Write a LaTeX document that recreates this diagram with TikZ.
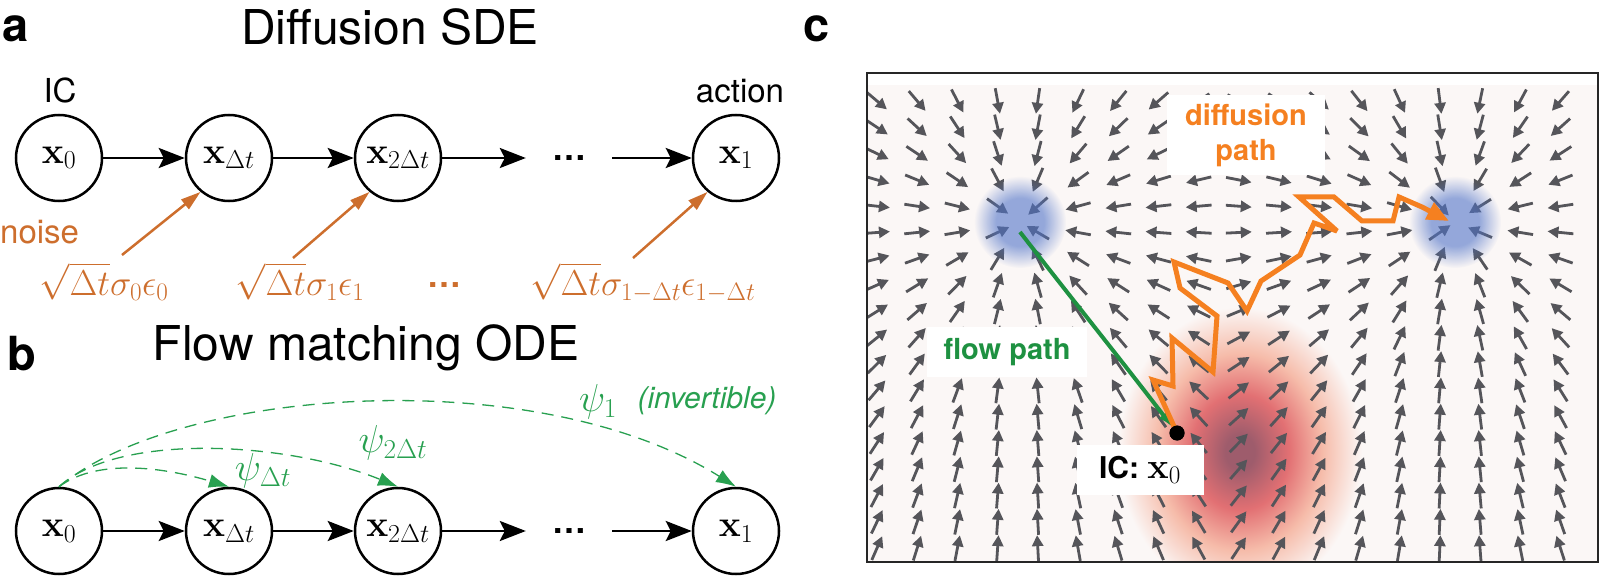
\RequirePackage{fix-cm}
\documentclass[tikz,border=0pt]{standalone}
\usepackage[no-math]{fontspec}
\newfontfamily\hv{TeX Gyre Heros}
\usetikzlibrary{arrows.meta,fadings}

\definecolor{orA}{RGB}{205,110,45}
\definecolor{grB}{RGB}{40,160,80}
\definecolor{orC}{RGB}{245,128,32}
\definecolor{grC}{RGB}{30,145,65}
\definecolor{bgC}{RGB}{251,247,246}
\definecolor{qvC}{RGB}{85,85,90}
\definecolor{blueC}{RGB}{80,115,200}
\definecolor{rCore}{RGB}{158,92,108}
\definecolor{rMid}{RGB}{226,112,115}
\definecolor{rOut}{RGB}{246,188,170}

\pgfdeclareradialshading{redblobsh}{\pgfpointorigin}{color(0bp)=(rCore); color(3bp)=(rCore); color(10bp)=(rMid); color(17bp)=(rOut); color(25bp)=(bgC); color(50bp)=(bgC)}
\pgfdeclareradialshading{softblobsh}{\pgfpointorigin}{color(0bp)=(pgftransparent!0); color(13bp)=(pgftransparent!0); color(25bp)=(pgftransparent!100); color(50bp)=(pgftransparent!100)}
\pgfdeclarefading{softblob}{\pgfuseshading{softblobsh}}

\tikzset{
  st/.style={circle, draw, line width=2.5pt, minimum size=86pt, inner sep=0pt, font=\fontsize{37}{37}\selectfont},
  dotsnode/.style={inner xsep=26pt, inner ysep=2pt, font=\hv\bfseries\fontsize{34}{34}\selectfont},
  arr/.style={line width=2.8pt, -{Stealth[length=26pt,width=20pt,inset=5pt]}},
  oarr/.style={draw=orA, line width=2.5pt, -{Triangle[length=20pt,width=12pt]}},
  garc/.style={draw=grB, line width=1.3pt, dash pattern=on 12pt off 8pt, -{Latex[length=20pt,width=14pt]}},
  ttl/.style={font=\hv\fontsize{48}{48}\selectfont, anchor=base, inner sep=0pt},
  plab/.style={font=\hv\bfseries\fontsize{47}{47}\selectfont, anchor=base west, inner sep=0pt},
  lab/.style={font=\hv\fontsize{33}{33}\selectfont, anchor=base, inner sep=0pt},
  omath/.style={text=orA, font=\fontsize{36}{36}\selectfont, anchor=base, inner sep=0pt},
  gmath/.style={text=grB, font=\fontsize{39}{39}\selectfont, inner sep=0pt},
  qv/.style={draw=qvC, line width=2.8pt, -{Triangle[length=11pt,width=11pt]}},
  box/.style={fill=white, inner sep=0pt},
  gpath/.style={draw=grC, line width=4pt, -{Latex[length=15pt,width=11pt]}},
  opath/.style={draw=orC, line width=5pt, miter limit=4, -{Triangle[length=22pt,width=18pt]}},
}

\begin{document}
\begin{tikzpicture}[x=1pt,y=-1pt]
\useasboundingbox (0,0) rectangle (1600,577);

% ---------------- panel a ----------------
\node[plab] (la) at (2,42) {a};
\node[ttl] (ta) at (390,45) {Diffusion SDE};
\node[lab] (ic) at (60,103) {IC};
\node[lab] (act) at (740,103) {action};

\node[st] (a0) at (59,158) {$\mathbf{x}_0$};
\node[st] (a1) at (229,158) {$\mathbf{x}_{\Delta t}$};
\node[st] (a2) at (398,158) {$\mathbf{x}_{2\Delta t}$};
\node[dotsnode] (ad) at (569,158) {…};
\node[st] (a3) at (736,158) {$\mathbf{x}_1$};

\draw[arr] (a0) -- (a1);
\draw[arr] (a1) -- (a2);
\draw[arr] (a2) -- (ad);
\draw[arr] (ad) -- (a3);

\node[font=\hv\fontsize{33}{33}\selectfont, text=orA, anchor=base west, inner sep=0pt] (noise) at (0,244) {noise};
\node[omath] (s0) at (104,295) {$\sqrt{\Delta t}\sigma_0\epsilon_0$};
\node[omath] (s1) at (300,295) {$\sqrt{\Delta t}\sigma_1\epsilon_1$};
\node[dotsnode, text=orA, inner xsep=0pt] (sd) at (444,285) {…};
\node[omath] (s2) at (643,295) {$\sqrt{\Delta t}\sigma_{1-\Delta t}\epsilon_{1-\Delta t}$};

\coordinate (n0) at (122,255);
\coordinate (n1) at (293,258);
\coordinate (n2) at (633,258);
\draw[oarr] (n0) -- (a1.230);
\draw[oarr] (n1) -- (a2.230);
\draw[oarr] (n2) -- (a3.230);

% ---------------- panel b ----------------
\node[plab] (lb) at (7,370) {b};
\node[ttl] (tb) at (366,360) {Flow matching ODE};

\node[st] (b0) at (59,531) {$\mathbf{x}_0$};
\node[st] (b1) at (229,531) {$\mathbf{x}_{\Delta t}$};
\node[st] (b2) at (398,531) {$\mathbf{x}_{2\Delta t}$};
\node[dotsnode] (bd) at (569,531) {…};
\node[st] (b3) at (736,531) {$\mathbf{x}_1$};

\draw[arr] (b0) -- (b1);
\draw[arr] (b1) -- (b2);
\draw[arr] (b2) -- (bd);
\draw[arr] (bd) -- (b3);

\draw[garc] (b0.north) .. controls +(40,-30) and +(-60,-18) .. (b1.north);
\draw[garc] (b0.north) .. controls +(60,-55) and +(-110,-45) .. (b2.north);
\draw[garc] (b0.north) .. controls +(120,-100) and +(-200,-125) .. (b3.north);

\node[gmath] (p1) at (263,471) {$\psi_{\Delta t}$};
\node[gmath] (p2) at (393,443) {$\psi_{2\Delta t}$};
\node[gmath] (p3) at (598,402) {$\psi_1$};
\node[text=grB, font=\hv\itshape\fontsize{30}{30}\selectfont, inner sep=0pt] (inv) at (707,401) {(invertible)};

% ---------------- panel c ----------------
\node[plab] (lc) at (803,42) {c};

\fill[bgC] (867,85) rectangle (1598,562);
\begin{scope}
  \clip (867,85) rectangle (1598,562);
  \shade[shading=redblobsh] (1240,452) ellipse [x radius=122pt, y radius=145pt];
  \foreach \i in {0,...,17}{
    \foreach \j in {0,...,17}{
      \pgfmathsetmacro\px{877+40.2*\i}
      \pgfmathsetmacro\py{101+26.3*\j}
      \pgfmathsetmacro\ax{\px<1237.5 ? 1020 : 1455}
      \pgfmathsetmacro\ang{atan2(222-\py,\ax-\px)}
      \draw[qv] (\px,\py) ++(\ang+180:13) -- ++(\ang:26);
    }
  }
  \fill[blueC, fill opacity=0.6, path fading=softblob] (1020,222) circle (46pt);
  \fill[blueC, fill opacity=0.6, path fading=softblob] (1455,222) circle (46pt);
\end{scope}

\node[box, minimum width=160pt, minimum height=50pt, text=grC, font=\hv\bfseries\fontsize{29}{29}\selectfont] (fp) at (1007,352) {flow path};
\node[box, minimum width=158pt, minimum height=80pt, text=orC, align=center, font=\hv\bfseries\fontsize{29}{35}\selectfont] (dp) at (1246,135) {diffusion\\path};
\node[box, minimum width=127pt, minimum height=50pt, font=\hv\bfseries\fontsize{30}{30}\selectfont] (icx) at (1140,470) {IC:~\fontsize{36}{36}\selectfont$\mathbf{x}_0$};

\coordinate (gS) at (1020,232);
\coordinate (oE) at (1449,221);
\node[circle, fill=black, inner sep=0pt, minimum size=15pt] (dot) at (1177,433) {};

\draw[gpath] (gS) .. controls (1065,290) and (1125,365) .. (dot);
\draw[opath] (dot.center) -- (1153,380) -- (1173,386) -- (1172,338) -- (1213,372) -- (1217,316) -- (1180,288) -- (1174,262) -- (1228,283) -- (1247,311) -- (1261,281) -- (1300,255) -- (1314,223) -- (1337,231) -- (1299,197) -- (1334,197) -- (1362,221) -- (1393,221) -- (1399,197) -- (1422,207) -- (oE);
\fill[black] (dot) circle (7.5pt);

\draw[line width=2.3pt, draw=black!85] (867,73) rectangle (1598,562);
\end{tikzpicture}
\end{document}
